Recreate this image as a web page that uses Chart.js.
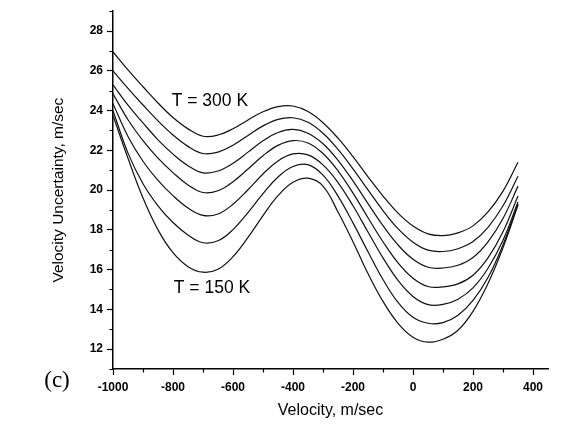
<!DOCTYPE html>
<html>
<head>
<meta charset="utf-8">
<script src="https://cdn.jsdelivr.net/npm/chart.js@4"></script>
<style>
  html, body { margin: 0; padding: 0; background: #fff; }
  #wrap { width: 566px; height: 424px; }
</style>
</head>
<body>
<div id="wrap"><canvas id="grafica" width="566" height="424"></canvas></div>
<script>
// velocidades (m/sec) donde se leyeron las curvas
const velocity = [-1000, -950, -900, -850, -800, -750, -700, -650, -600, -550, -500, -450, -400, -350,
  -300, -250, -200, -150, -100, -50, 0, 50, 100, 150, 200, 250, 300, 350];

// incertidumbre (m/sec), una curva por temperatura, de 300 K a 150 K
const u300 = [26.95, 26.05, 25.2, 24.38, 23.65, 23.08, 22.71, 22.77, 23.09, 23.53, 23.94, 24.2, 24.23, 23.95,
  23.39, 22.61, 21.68, 20.67, 19.7, 18.84, 18.19, 17.8, 17.71, 17.85, 18.2, 18.9, 19.95, 21.4];
const u275 = [26.0, 25.12, 24.28, 23.48, 22.77, 22.2, 21.84, 21.91, 22.26, 22.75, 23.23, 23.56, 23.64, 23.41,
  22.86, 22.05, 21.07, 20.01, 18.97, 18.06, 17.38, 16.98, 16.91, 17.05, 17.41, 18.13, 19.21, 20.7];
const u250 = [25.3, 24.27, 23.38, 22.53, 21.81, 21.23, 20.87, 20.96, 21.35, 21.91, 22.48, 22.9, 23.05, 22.86,
  22.33, 21.5, 20.46, 19.32, 18.21, 17.24, 16.52, 16.12, 16.08, 16.22, 16.61, 17.4, 18.57, 20.2];
const u225 = [24.85, 23.54, 22.49, 21.61, 20.88, 20.26, 19.88, 19.97, 20.42, 21.06, 21.73, 22.25, 22.49, 22.37,
  21.84, 20.97, 19.85, 18.61, 17.4, 16.34, 15.57, 15.15, 15.13, 15.28, 15.72, 16.59, 17.9, 19.7];
const u200 = [24.35, 22.7, 21.45, 20.49, 19.72, 19.1, 18.73, 18.8, 19.29, 20.02, 20.81, 21.47, 21.82, 21.77,
  21.27, 20.38, 19.21, 17.89, 16.59, 15.46, 14.65, 14.24, 14.25, 14.51, 15.08, 16.07, 17.48, 19.4];
const u175 = [24.0, 21.86, 20.32, 19.21, 18.37, 17.74, 17.35, 17.45, 18.01, 18.87, 19.82, 20.66, 21.19, 21.28,
  20.75, 19.7, 18.35, 16.9, 15.5, 14.35, 13.6, 13.3, 13.33, 13.7, 14.45, 15.6, 17.25, 19.3];
const u150 = [23.75, 21.6, 19.6, 18.0, 16.85, 16.15, 15.87, 16.02, 16.65, 17.62, 18.72, 19.72, 20.39, 20.6,
  20.2, 18.9, 17.4, 15.8, 14.4, 13.3, 12.6, 12.35, 12.5, 12.95, 13.9, 15.3, 17.1, 19.25];

const seriesNames = ["T = 300 K", "T = 275 K", "T = 250 K", "T = 225 K", "T = 200 K", "T = 175 K", "T = 150 K"];
const seriesValues = [u300, u275, u250, u225, u200, u175, u150];

// ticks
const xMajor = [-1000, -800, -600, -400, -200, 0, 200, 400];
const xMinor = [-900, -700, -500, -300, -100, 100, 300];
const yMajor = [12, 14, 16, 18, 20, 22, 24, 26, 28];
const yMinor = [11, 13, 15, 17, 19, 21, 23, 25, 27, 29];

// etiquetas dentro del grafico: [texto, velocidad, incertidumbre]
const notes = [["T = 300 K", -677, 24.45], ["T = 150 K", -670, 15.05]];

const SANS = "'Liberation Sans', Arial, sans-serif";

const datasets = seriesValues.map((vals, i) => ({
  label: seriesNames[i],
  data: velocity.map((v, j) => ({ x: v, y: vals[j] })),
  borderColor: "#111",
  borderWidth: 1.2,
  pointRadius: 0,
  fill: false,
  tension: 0.4
}));

// marcas menores y textos
const extras = {
  id: "extras",
  afterDraw(chart) {
    const c = chart.ctx;
    const xs = chart.scales.x, ys = chart.scales.y;
    const area = chart.chartArea;
    c.save();
    c.strokeStyle = "#000";
    c.lineWidth = 1.2;
    c.beginPath();
    xMinor.forEach(v => {
      const px = Math.round(xs.getPixelForValue(v)) + 0.5;
      c.moveTo(px, area.bottom);
      c.lineTo(px, area.bottom + 3.5);
    });
    yMinor.forEach(v => {
      const py = Math.round(ys.getPixelForValue(v)) + 0.5;
      c.moveTo(area.left, py);
      c.lineTo(area.left - 3.5, py);
    });
    c.stroke();

    c.fillStyle = "#000";
    c.font = "17.5px " + SANS;
    c.textAlign = "center";
    c.textBaseline = "middle";
    notes.forEach(n => {
      c.fillText(n[0], xs.getPixelForValue(n[1]), ys.getPixelForValue(n[2]));
    });

    c.font = "23px 'Liberation Serif', 'Times New Roman', serif";
    c.fillText("(c)", area.left - 56, area.bottom + 12);
    c.restore();
  }
};

const ctx = document.getElementById("grafica").getContext("2d");

let grafica = new Chart(ctx, {
  type: "line",
  data: { datasets: datasets },
  plugins: [extras],
  options: {
    responsive: false,
    animation: false,
    layout: { padding: { top: 10, right: 18, left: 0, bottom: 0 } },
    plugins: {
      legend: { display: false },
      tooltip: { enabled: false }
    },
    scales: {
      x: {
        type: "linear",
        min: -1000,
        max: 450,
        afterBuildTicks: s => { s.ticks = xMajor.map(v => ({ value: v })); },
        afterFit: s => { s.height = 55; },
        ticks: {
          color: "#000",
          padding: 5,
          maxRotation: 0,
          callback: v => String(v),
          font: { family: SANS, size: 12, weight: "bold" }
        },
        grid: {
          drawOnChartArea: false,
          drawTicks: true,
          tickLength: 6,
          tickWidth: 1.2,
          tickColor: "#000"
        },
        border: { display: true, color: "#000", width: 1.5 },
        title: {
          display: true,
          text: "Velocity, m/sec",
          color: "#000",
          padding: { top: 0, bottom: 4 },
          font: { family: SANS, size: 16 }
        }
      },
      y: {
        type: "linear",
        min: 11,
        max: 29,
        afterBuildTicks: s => { s.ticks = yMajor.map(v => ({ value: v })); },
        afterFit: s => { s.width = 113; },
        ticks: {
          color: "#000",
          padding: 4,
          callback: v => String(v),
          font: { family: SANS, size: 12, weight: "bold" }
        },
        grid: {
          drawOnChartArea: false,
          drawTicks: true,
          tickLength: 6,
          tickWidth: 1.2,
          tickColor: "#000"
        },
        border: { display: true, color: "#000", width: 1.5 },
        title: {
          display: true,
          text: "Velocity Uncertainty, m/sec",
          color: "#000",
          padding: { top: 49, bottom: 0 },
          font: { family: SANS, size: 15.5 }
        }
      }
    }
  }
});
</script>
</body>
</html>
